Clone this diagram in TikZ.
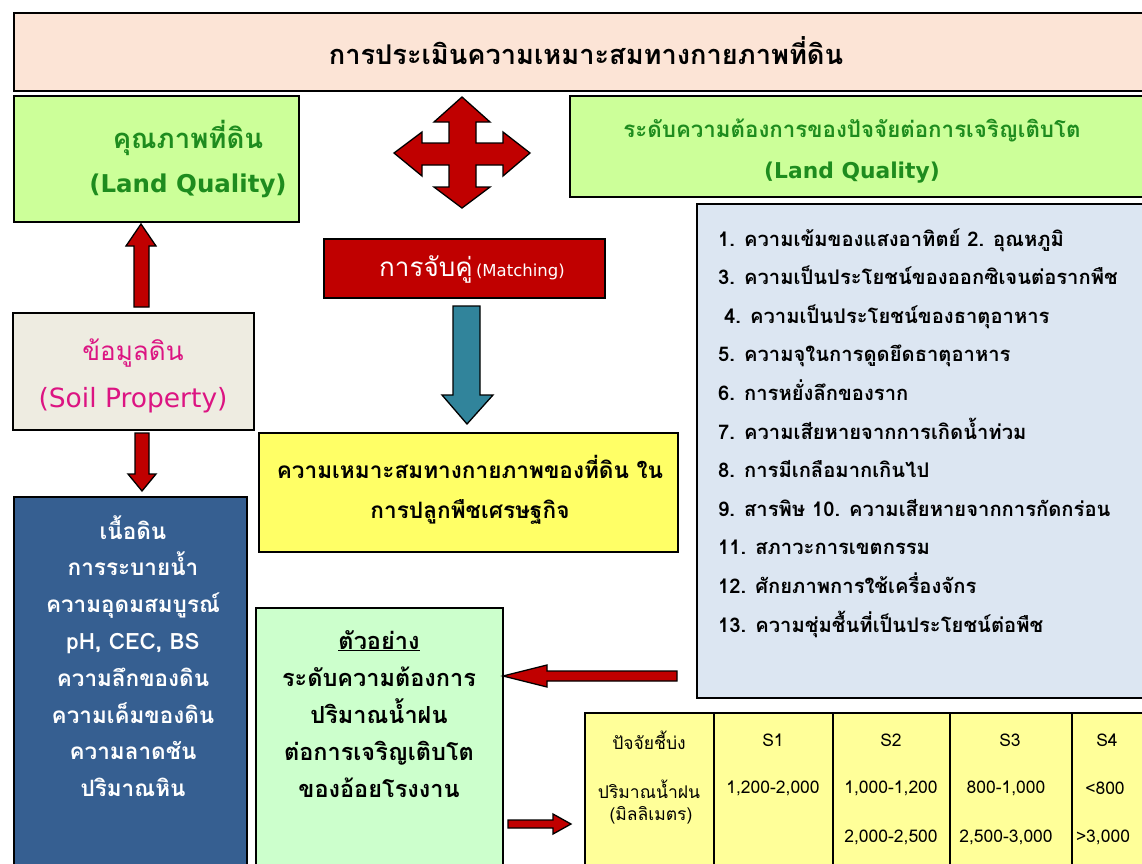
\documentclass[tikz,border=0pt]{standalone}
\usepackage{fontspec}
\setmainfont[Script=Thai]{Loma}
\newfontfamily\lat{DejaVu Sans}
\definecolor{titlefill}{RGB}{252,228,214}
\definecolor{lgreen}{RGB}{204,255,153}
\definecolor{dgreen}{RGB}{30,140,30}
\definecolor{arrowred}{RGB}{192,0,0}
\definecolor{tealarrow}{RGB}{49,132,155}
\definecolor{soilfill}{RGB}{238,236,225}
\definecolor{soiltext}{RGB}{220,20,130}
\definecolor{bluefill}{RGB}{54,95,145}
\definecolor{yellowfill}{RGB}{255,255,102}
\definecolor{listfill}{RGB}{220,230,242}
\definecolor{mintfill}{RGB}{204,255,204}
\definecolor{tablefill}{RGB}{255,255,153}
\begin{document}
\begin{tikzpicture}[x=1pt,y=-1pt,
  box/.style={draw=black, line width=1.6pt, inner sep=0pt, anchor=north west},
  blockarrow/.style={draw=black, line width=1.3pt, line join=miter},
  tcell/.style={font=\fontsize{17.5}{20}\selectfont, inner sep=0pt},
  listline/.style={anchor=base west, inner sep=0pt, font=\bfseries\fontsize{20.2}{23}\selectfont}
]
\clip (0,0) rectangle (1142,863);
\fill[white] (0,0) rectangle (1142,863);

% title
\node[box, fill=titlefill, minimum width=1147, minimum height=78] (title) at (13,12) {};
\node[font=\bfseries\fontsize{27.2}{30}\selectfont] (titletext) at (586,51) {การประเมินความเหมาะสมทางกายภาพที่ดิน};

% land quality left
\node[box, fill=lgreen, minimum width=285, minimum height=126] (lq) at (13,95) {};
\node[text=dgreen, font=\bfseries\fontsize{27.5}{44}\selectfont, align=center] (lqtext) at (188,159) {คุณภาพที่ดิน\\{\lat\bfseries\fontsize{24.5}{30}\selectfont (Land Quality)}};

% land quality right
\node[box, fill=lgreen, minimum width=590, minimum height=101] (rq) at (569,95) {};
\node[text=dgreen, font=\bfseries\fontsize{22.3}{41}\selectfont, align=center] (rqtext) at (852,151) {ระดับความต้องการของปัจจัยต่อการเจริญเติบโต\\{\lat\bfseries\fontsize{21.8}{30}\selectfont (Land Quality)}};

% four-way arrow
\fill[arrowred] (462,97) -- (490,122) -- (476,122) -- (476,143) -- (503,143) -- (503,132) -- (530,153) -- (503,176) -- (503,165) -- (476,165) -- (476,187) -- (490,187) -- (462,208) -- (434,187) -- (449,187) -- (449,165) -- (422,165) -- (422,176) -- (394,153) -- (422,132) -- (422,143) -- (449,143) -- (449,122) -- (434,122) -- cycle;
\draw[blockarrow] (462,97) -- (490,122) -- (476,122) -- (476,143) -- (503,143) -- (503,132) -- (530,153) -- (503,176) -- (503,165) -- (476,165) -- (476,187) -- (490,187) -- (462,208) -- (434,187) -- (449,187) -- (449,165) -- (422,165) -- (422,176) -- (394,153) -- (422,132) -- (422,143) -- (449,143) -- (449,122) -- (434,122) -- cycle;

% matching
\node[box, fill=arrowred, minimum width=281, minimum height=59] (match) at (323,238) {};
\node[text=white] (matchtext) at (472,269) {{\fontsize{26}{30}\selectfont การจับคู่} {\lat\fontsize{16.5}{20}\selectfont (Matching)}};

% teal arrow
\draw[blockarrow, fill=tealarrow] (453,306) -- (480,306) -- (480,395) -- (493,395) -- (467,424) -- (442,395) -- (453,395) -- cycle;

% up arrow
\draw[blockarrow, fill=arrowred] (134,307) -- (149,307) -- (149,246) -- (156,246) -- (141,224) -- (126,246) -- (134,246) -- cycle;

% soil property
\node[box, fill=soilfill, minimum width=241, minimum height=117] (soil) at (12,312) {};
\node[text=soiltext, font=\fontsize{26}{47}\selectfont, align=center] (soiltxt) at (133,376) {ข้อมูลดิน\\{\lat\fontsize{26.5}{30}\selectfont (Soil Property)}};

% down arrow
\draw[blockarrow, fill=arrowred] (135,433) -- (149,433) -- (149,474) -- (156,474) -- (142,491) -- (128,474) -- (135,474) -- cycle;

% blue box
\node[box, fill=bluefill, minimum width=233, minimum height=380] (blue) at (13,496) {};
\node[text=white, font=\bfseries\fontsize{22.5}{36.8}\selectfont, align=center] (bluetext) at (133,656) {เนื้อดิน\\การระบายน้ำ\\ความอุดมสมบูรณ์\\pH, CEC, BS\\ความลึกของดิน\\ความเค็มของดิน\\ความลาดชัน\\ปริมาณหิน};

% yellow box
\node[box, fill=yellowfill, minimum width=419, minimum height=119] (yellow) at (258,432) {};
\node[font=\bfseries\fontsize{22.6}{40}\selectfont, align=center] (yellowtext) at (470,490) {ความเหมาะสมทางกายภาพของที่ดิน ใน\\การปลูกพืชเศรษฐกิจ};

% list box
\node[box, fill=listfill, minimum width=460, minimum height=494] (list) at (696,203) {};
\foreach \t [count=\i] in {
  {1. ความเข้มของแสงอาทิตย์ 2. อุณหภูมิ},
  {3. ความเป็นประโยชน์ของออกซิเจนต่อรากพืช},
  {\hspace*{6pt}4. ความเป็นประโยชน์ของธาตุอาหาร},
  {5. ความจุในการดูดยึดธาตุอาหาร},
  {6. การหยั่งลึกของราก},
  {7. ความเสียหายจากการเกิดน้ำท่วม},
  {8. การมีเกลือมากเกินไป},
  {9. สารพิษ 10. ความเสียหายจากการกัดกร่อน},
  {11. สภาวะการเขตกรรม},
  {12. ศักยภาพการใช้เครื่องจักร},
  {13. ความชุ่มชื้นที่เป็นประโยชน์ต่อพืช}}
  \node[listline] (li\i) at (718,{246+38.6*(\i-1)}) {\t};

% example box
\node[box, fill=mintfill, minimum width=247, minimum height=270] (example) at (255,607) {};
\node[font=\bfseries\fontsize{23.5}{37.2}\selectfont, align=center] (exampletext) at (379,714) {\underline{ตัวอย่าง}\\ระดับความต้องการ\\ปริมาณน้ำฝน\\ต่อการเจริญเติบโต\\ของอ้อยโรงงาน};

% left red arrow
\draw[blockarrow, fill=arrowred] (677,671) -- (547,671) -- (547,665) -- (503,676) -- (547,687) -- (547,681) -- (677,681) -- cycle;

% small right arrow
\draw[blockarrow, fill=arrowred] (508,820) -- (553,820) -- (553,814) -- (571,824) -- (553,834) -- (553,828) -- (508,828) -- cycle;

% table
\node[box, fill=tablefill, minimum width=570, minimum height=170] (table) at (584,712) {};
\draw[line width=1.2pt] (714,712) -- (714,880) (833,712) -- (833,880) (950,712) -- (950,880) (1072,712) -- (1072,880);
\node[tcell] (h0) at (649,740) {ปัจจัยชี้บ่ง};
\node[tcell] (h1) at (773,740) {S1};
\node[tcell] (h2) at (891,740) {S2};
\node[tcell] (h3) at (1010,740) {S3};
\node[tcell] (h4) at (1107,740) {S4};
\node[tcell] (r0) at (649,789) {ปริมาณน้ำฝน};
\node[tcell] (r1) at (773,788) {1,200-2,000};
\node[tcell] (r2) at (891,788) {1,000-1,200};
\node[tcell] (r3) at (1006,788) {800-1,000};
\node[tcell] (r4) at (1105,788) {<800};
\node[tcell] (r0b) at (651,815) {(มิลลิเมตร)};
\node[tcell] (s2) at (891,837) {2,000-2,500};
\node[tcell] (s3) at (1006,837) {2,500-3,000};
\node[tcell] (s4) at (1103,837) {>3,000};
\end{tikzpicture}
\end{document}
